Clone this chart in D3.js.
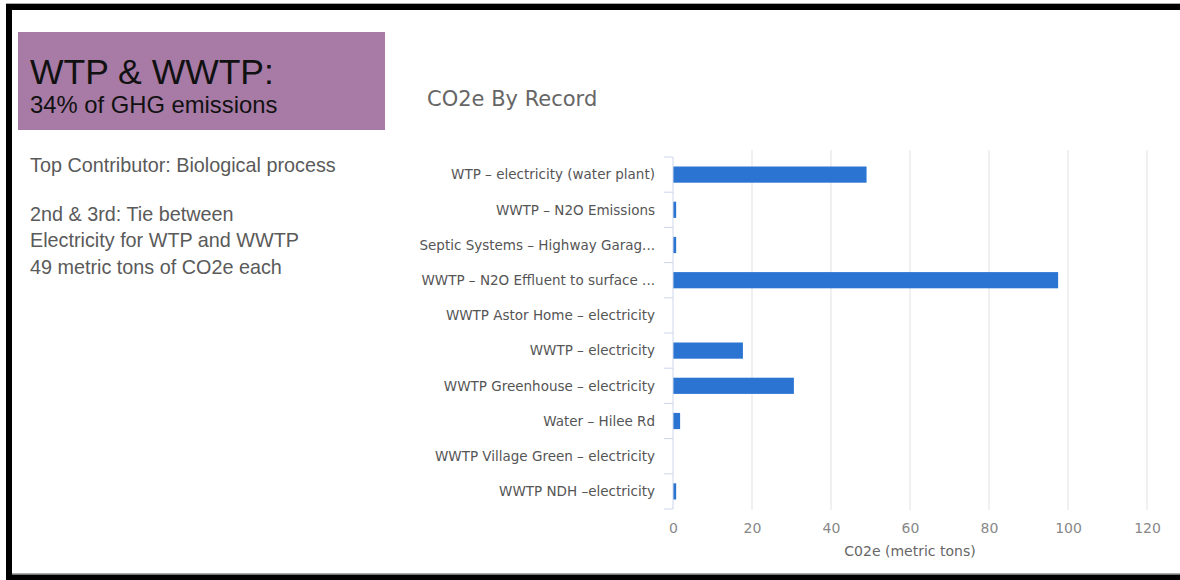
<!DOCTYPE html>
<html>
<head>
<meta charset="utf-8">
<script src="https://cdn.jsdelivr.net/npm/d3@7"></script>
<style>
  html, body { margin: 0; padding: 0; background: #fff; }
  svg { display: block; }
</style>
</head>
<body>
<svg id="chart" width="1180" height="580"></svg>
<script>
// Records and their CO2e totals (metric tons)
const records = [
  "WTP – electricity (water plant)",
  "WWTP – N2O Emissions",
  "Septic Systems – Highway Garag...",
  "WWTP – N2O Effluent to surface ...",
  "WWTP Astor Home – electricity",
  "WWTP – electricity",
  "WWTP Greenhouse – electricity",
  "Water – Hilee Rd",
  "WWTP Village Green – electricity",
  "WWTP NDH –electricity"
];
const co2e = [49, 0.8, 0.8, 97.5, 0, 17.7, 30.6, 1.8, 0, 0.8];
const xTicks = [0, 20, 40, 60, 80, 100, 120];

const headline = "WTP & WWTP:";
const subline = "34% of GHG emissions";
const notes = [
  "Top Contributor: Biological process",
  "2nd & 3rd: Tie between",
  "Electricity for WTP and WWTP",
  "49 metric tons of CO2e each"
];

const svg = d3.select("#chart");
const font = "'DejaVu Sans', sans-serif";
const sideFont = "'Liberation Sans', Arial, sans-serif";

// Black frame around the slide
svg.append("rect").attr("x", 6).attr("y", 3).attr("width", 1174).attr("height", 1.2).attr("fill", "#aaa");
svg.append("rect").attr("x", 6).attr("y", 4).attr("width", 1174).attr("height", 6).attr("fill", "#000");
svg.append("rect").attr("x", 6).attr("y", 4).attr("width", 6).attr("height", 576).attr("fill", "#000");
svg.append("rect").attr("x", 12).attr("y", 573).attr("width", 1168).attr("height", 1.2).attr("fill", "#aaa");
svg.append("rect").attr("x", 6).attr("y", 574.5).attr("width", 1174).attr("height", 6).attr("fill", "#000");

// Highlight box
svg.append("rect").attr("x", 18).attr("y", 32).attr("width", 367).attr("height", 98).attr("fill", "#a77ba6");
svg.append("text").attr("x", 30).attr("y", 84).attr("font-family", sideFont)
  .attr("font-size", 35.5).attr("fill", "#111").text(headline);
svg.append("text").attr("x", 30).attr("y", 113).attr("font-family", sideFont)
  .attr("font-size", 23.8).attr("fill", "#111").text(subline);

const noteY = [172, 221, 247, 274];
svg.selectAll("text.note").data(notes).join("text")
  .attr("class", "note")
  .attr("x", 30).attr("y", (d, i) => noteY[i])
  .attr("font-family", sideFont).attr("font-size", 19.8).attr("fill", "#5a5a5a")
  .text(d => d);

// Chart title
svg.append("text").attr("x", 427).attr("y", 106).attr("font-family", font)
  .attr("font-size", 21).attr("fill", "#666").text("CO2e By Record");

// Scales
const x = d3.scaleLinear().domain([0, 120]).range([673, 1147]);
const y = d3.scaleBand().domain(records).range([157, 509]).paddingInner(0.54).paddingOuter(0.27);

// Vertical gridlines
svg.append("g").selectAll("line").data(xTicks.slice(1)).join("line")
  .attr("x1", d => x(d)).attr("x2", d => x(d))
  .attr("y1", 150).attr("y2", 510)
  .attr("stroke", "#e6e6e6").attr("stroke-width", 1.2);

// Bars
svg.append("g").selectAll("rect").data(records).join("rect")
  .attr("x", x(0))
  .attr("y", d => y(d))
  .attr("width", (d, i) => Math.max(0, x(co2e[i]) - x(0)))
  .attr("height", y.bandwidth())
  .attr("fill", "#2b74d2");

// Category axis with ticks on band boundaries
const yAxis = svg.append("g").attr("transform", `translate(${x(0)},0)`);
yAxis.append("line").attr("x1", 0).attr("x2", 0).attr("y1", 157).attr("y2", 509)
  .attr("stroke", "#ccd6eb").attr("stroke-width", 1);
const bounds = d3.range(records.length + 1).map(i => 157 + i * (352 / records.length));
yAxis.selectAll("line.tick").data(bounds).join("line")
  .attr("class", "tick")
  .attr("x1", -9).attr("x2", 0).attr("y1", d => d).attr("y2", d => d)
  .attr("stroke", "#ccd6eb");
yAxis.selectAll("text").data(records).join("text")
  .attr("x", -18).attr("y", d => y(d) + y.bandwidth() / 2)
  .attr("dy", "0.35em").attr("text-anchor", "end")
  .attr("font-family", font).attr("font-size", 13.5).attr("fill", "#555")
  .text(d => d);

// Value axis labels
const xAxis = d3.axisBottom(x).tickValues(xTicks).tickSize(0).tickPadding(0);
const gx = svg.append("g").attr("transform", "translate(0,520)").call(xAxis);
gx.select(".domain").remove();
gx.selectAll("text").attr("font-family", font).attr("font-size", 14).attr("fill", "#888").attr("dy", "0.9em");

svg.append("text").attr("x", 910).attr("y", 556).attr("text-anchor", "middle")
  .attr("font-family", font).attr("font-size", 14).attr("fill", "#666")
  .text("C02e (metric tons)");
</script>
</body>
</html>
